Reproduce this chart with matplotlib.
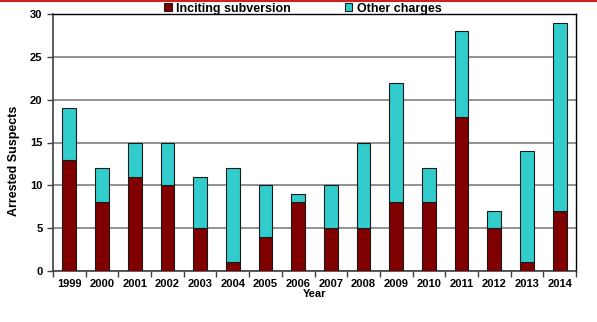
import numpy as np
import matplotlib.pyplot as plt
from matplotlib.lines import Line2D

plt.rcParams['font.family'] = ['Liberation Sans', 'DejaVu Sans']
plt.rcParams['font.weight'] = 'bold'

# Arrested suspects per year, split by charge
years = ['1999', '2000', '2001', '2002', '2003', '2004', '2005', '2006',
         '2007', '2008', '2009', '2010', '2011', '2012', '2013', '2014']
inciting = [13, 8, 11, 10, 5, 1, 4, 8, 5, 5, 8, 8, 18, 5, 1, 7]
other = [6, 4, 4, 5, 6, 11, 6, 1, 5, 10, 14, 4, 10, 2, 13, 22]

fig = plt.figure(figsize=(5.97, 3.22), dpi=100)
ax = fig.add_axes([53 / 597, 1 - 271 / 322, 523 / 597, 257 / 322])

x = np.arange(len(years))
ax.bar(x, inciting, width=0.42, color='#800000', edgecolor='#1a1a1a',
       linewidth=0.8, label='Inciting subversion', zorder=3)
ax.bar(x, other, width=0.42, bottom=inciting, color='#33cccc',
       edgecolor='#1a1a1a', linewidth=0.8, label='Other charges', zorder=3)

ax.set_xlim(-0.5, len(years) - 0.5)
ax.set_ylim(0, 30)
ax.set_yticks(np.arange(0, 31, 5))
ax.yaxis.grid(True, color='#808080', linewidth=1.2, zorder=0)

# Category labels at bar centers, tick marks between categories
ax.set_xticks(x)
ax.set_xticklabels(years, fontsize=8, fontweight='bold')
ax.set_xticks(np.arange(-0.5, len(years)), minor=True)
ax.tick_params(axis='x', which='major', length=0, pad=6)
ax.tick_params(axis='x', which='minor', length=4, width=1, color='#404040')
ax.tick_params(axis='y', length=4, width=1, color='#404040', labelsize=8)
for lab in ax.get_yticklabels():
    lab.set_fontweight('bold')

for side in ['top', 'right']:
    ax.spines[side].set_linewidth(1)
    ax.spines[side].set_color('black')
for side in ['left', 'bottom']:
    ax.spines[side].set_linewidth(1.2)
    ax.spines[side].set_color('#404040')

ax.set_xlabel('Year', fontsize=8, fontweight='bold', labelpad=0)
ax.set_ylabel('Arrested Suspects', fontsize=9, fontweight='bold')
ax.yaxis.set_label_coords(-0.064, 0.43)

ax.legend(loc='lower center', bbox_to_anchor=(0.478, 0.998), ncol=2,
          frameon=False, fontsize=9, handlelength=0.6, handleheight=0.6,
          handletextpad=0.35, columnspacing=4.3, borderpad=0, borderaxespad=0)

# Thin red rule across the top edge
fig.add_artist(Line2D([0, 1], [0.997, 0.997], color='#cc2222', linewidth=1.5,
                      transform=fig.transFigure))

fig.savefig('out.png', dpi=100)
